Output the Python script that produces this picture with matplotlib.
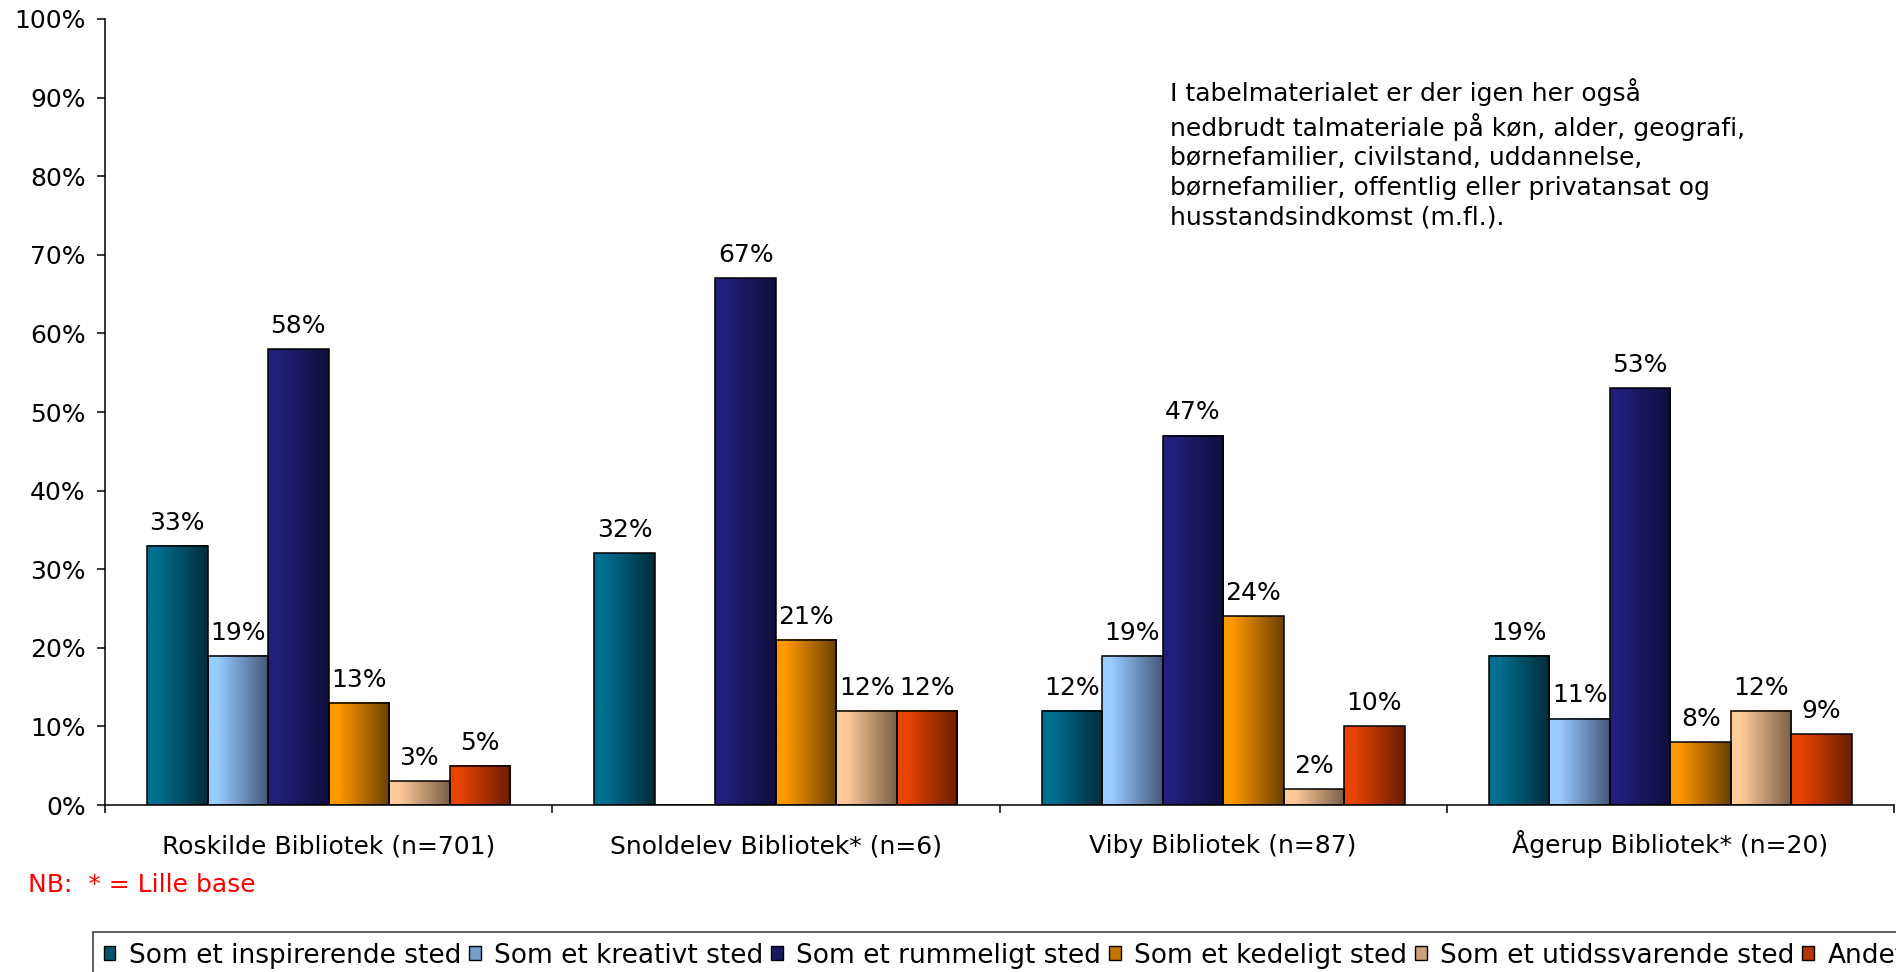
import numpy as np
import matplotlib
matplotlib.use("Agg")
import matplotlib.pyplot as plt
from matplotlib.patches import Rectangle
from matplotlib.colors import to_rgb

biblioteker = ["Roskilde Bibliotek (n=701)", "Snoldelev Bibliotek* (n=6)",
               "Viby Bibliotek (n=87)", "Ågerup Bibliotek* (n=20)"]
serier = ["Som et inspirerende sted", "Som et kreativt sted", "Som et rummeligt sted",
          "Som et kedeligt sted", "Som et utidssvarende sted", "Andet"]

# procent pr. bibliotek
inspirerende = [33, 32, 12, 19]
kreativt = [19, 0, 19, 11]
rummeligt = [58, 67, 47, 53]
kedeligt = [13, 21, 24, 8]
utidssvarende = [3, 12, 2, 12]
andet = [5, 12, 10, 9]

yticks = [0, 10, 20, 30, 40, 50, 60, 70, 80, 90, 100]

notat = ("I tabelmaterialet er der igen her også\n"
         "nedbrudt talmateriale på køn, alder, geografi,\n"
         "børnefamilier, civilstand, uddannelse,\n"
         "børnefamilier, offentlig eller privatansat og\n"
         "husstandsindkomst (m.fl.).")

# gradient: lys venstre kant -> mørk højre kant
farver_lys = ["#007090", "#99CCFF", "#221F7C", "#FF9900", "#FFCC99", "#E84400"]
farver_mork = ["#002C3A", "#45597A", "#110E3C", "#6A3F00", "#7A6048", "#6A1E00"]

data = [inspirerende, kreativt, rummeligt, kedeligt, utidssvarende, andet]

fig = plt.figure(figsize=(18.96, 9.72), dpi=100)
ax = fig.add_axes([105 / 1896, 1 - 805 / 972, 1789 / 1896, 786 / 972])

x = np.arange(len(biblioteker))
bredde = 0.1353
t = np.linspace(0, 1, 64)
s = np.clip((t - 0.15) / 0.85, 0, 1)[:, None]

for j, vals in enumerate(data):
    lys = np.array(to_rgb(farver_lys[j]))
    mork = np.array(to_rgb(farver_mork[j]))
    grad = (lys * (1 - s) + mork * s)[None, :, :]
    pos = x + (j - 2.5) * bredde
    bars = ax.bar(pos, vals, bredde, color="none", edgecolor="black",
                  linewidth=1.1, zorder=3)
    for b, v in zip(bars, vals):
        if v == 0:
            continue
        x0 = b.get_x()
        ax.imshow(grad, extent=(x0, x0 + bredde, 0, v), aspect="auto",
                  interpolation="bilinear", zorder=2)
        ax.annotate(f"{v}%", (x0 + bredde / 2, v), xytext=(0, 8),
                    textcoords="offset points", ha="center", va="bottom",
                    fontsize=18)

ax.set_xlim(-0.5, 3.5)
ax.set_ylim(0, 100)
ax.set_yticks(yticks)
ax.set_yticklabels([f"{v}%" for v in yticks], fontsize=18)
ax.set_xticks([-0.5, 0.5, 1.5, 2.5, 3.5])
ax.set_xticklabels([])
ax.tick_params(axis="both", which="major", length=5.8, width=1.1, direction="out")
ax.tick_params(axis="y", pad=8)
for side in ["top", "right"]:
    ax.spines[side].set_visible(False)
for side in ["left", "bottom"]:
    ax.spines[side].set_linewidth(1.1)

# kategori-navne under aksen (baseline-justeret, så Å ikke flytter teksten)
for xi, navn in zip(x, biblioteker):
    ax.text(xi, -(853 - 805) / 786, navn, transform=ax.get_xaxis_transform(),
            ha="center", va="baseline", fontsize=18)

fig.text(1170 / 1896, 1 - 78 / 972, notat, fontsize=18, va="top", ha="left",
         linespacing=1.3)
fig.text(28 / 1896, 1 - 885 / 972, "NB:  * = Lille base", fontsize=18,
         color="red", va="center", ha="left")

handles = [Rectangle((0, 0), 1, 1, facecolor=(np.array(to_rgb(a)) * 0.6 + np.array(to_rgb(b)) * 0.4),
                     edgecolor="black", linewidth=1.0)
           for a, b in zip(farver_lys, farver_mork)]
leg = fig.legend(handles, serier, loc="upper left",
                 bbox_to_anchor=(93 / 1896, 1 - 932 / 972), ncol=6, fontsize=19,
                 frameon=True, fancybox=False, handlelength=0.45, handleheight=0.45,
                 handletextpad=0.5, columnspacing=0.3, borderpad=0.4,
                 borderaxespad=0)
leg.get_frame().set_edgecolor("black")
leg.get_frame().set_linewidth(1.1)

fig.savefig("out.png", dpi=100)
